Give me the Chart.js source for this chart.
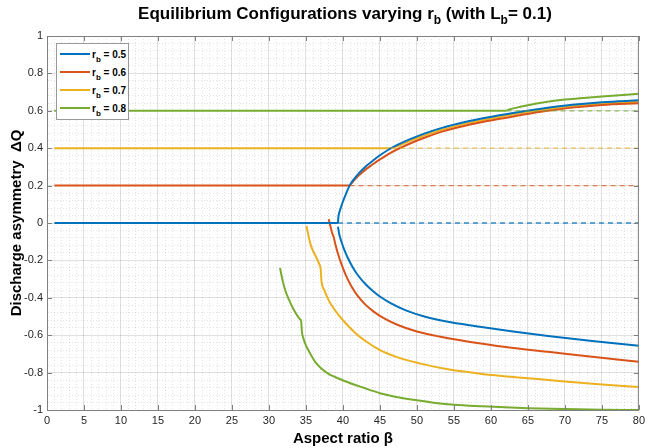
<!DOCTYPE html>
<html>
<head>
<meta charset="utf-8">
<script src="https://cdn.jsdelivr.net/npm/chart.js@4.4.0/dist/chart.umd.min.js"></script>
<style>
  html, body { margin: 0; padding: 0; background: #fff; }
  #wrap { position: relative; width: 649px; height: 448px; font-family: "Liberation Sans", Arial, sans-serif; }
  #title { position: absolute; left: 0; top: 3px; width: 690px; text-align: center; font-weight: bold; font-size: 17px; color: #000; line-height: 22px; white-space: nowrap; }
  #title sub { font-size: 12px; vertical-align: -5px; line-height: 0; }
  #legend { position: absolute; left: 56px; top: 43px; width: 73px; height: 77px; border: 1px solid #999; background: #fff; box-sizing: border-box; }
  #legend .row { position: absolute; left: 0; height: 18px; display: flex; align-items: center; white-space: nowrap; }
  #legend .sw { display: inline-block; width: 30px; height: 2px; margin-left: 3px; }
  #legend .lb { margin-left: 2px; font-weight: bold; font-size: 10px; color: #000; }
  #legend sub { font-size: 8px; vertical-align: -4px; line-height: 0; }
</style>
</head>
<body>
<div id="wrap">
  <canvas id="chart" width="649" height="448"></canvas>
  <div id="title">Equilibrium Configurations varying r<sub>b</sub> (with L<sub>b</sub>= 0.1)</div>
  <div id="legend"></div>
</div>
<script>
const rbValues = [0.5, 0.6, 0.7, 0.8];
const colors = ["#0072BD", "#D95319", "#EDB120", "#77AC30"];
const dashColors = ["rgba(0,114,189,0.8)", "rgba(217,83,25,0.7)", "rgba(237,177,32,0.75)", "rgba(119,172,48,0.75)"];

// flat (symmetric) solutions: level and where the solid part stops
const flatStart = 1;
const flatLevels = [0, 0.2, 0.4, 0.6];
const flatEnds = [39.33, 40.9, 46.5, 62.1];
const betaMax = 80;

// upper branches [beta, dQ]
const upper05 = [[39.33,0],[39.38,0.03],[39.5,0.055],[39.7,0.08],[40,0.115],[40.4,0.155],[40.9,0.2],[41.5,0.235],[42.2,0.268],[43,0.3],[44,0.332],[45,0.362],[46.2,0.393],[47.5,0.42],[49,0.447],[51,0.478],[53.5,0.51],[56.5,0.54],[59.5,0.564],[63,0.588],[67,0.612],[71,0.632],[75,0.646],[80,0.656]];
const upper06 = [[40.9,0.2],[41.5,0.228],[42.2,0.256],[43,0.284],[44,0.313],[45,0.34],[46.2,0.37],[47.5,0.397],[49,0.424],[51,0.456],[53.5,0.49],[56.5,0.52],[59.5,0.545],[63,0.57],[67,0.596],[71,0.617],[75,0.631],[80,0.64]];
const upper07 = [[46.5,0.398],[47.5,0.413],[49,0.438],[51,0.468],[53.5,0.5],[56.5,0.53],[59.5,0.555],[63,0.58],[67,0.605],[71,0.625],[75,0.639],[80,0.648]];
const upper08 = [[62.1,0.601],[62.6,0.608],[63.5,0.617],[65,0.63],[67,0.644],[70,0.66],[72,0.667],[75,0.677],[80,0.691]];

// lower branches [beta, dQ]
const lower05 = [[39.33,-0.02],[39.5,-0.06],[39.8,-0.1],[40.2,-0.145],[40.7,-0.19],[41.3,-0.235],[42,-0.278],[43,-0.325],[44,-0.362],[45,-0.393],[46.5,-0.43],[48.5,-0.467],[51,-0.5],[54,-0.527],[58,-0.552],[63,-0.58],[68,-0.605],[74,-0.632],[80,-0.656]];
const lower06 = [[38.08,0.02],[38.3,-0.016],[38.55,-0.055],[38.75,-0.075],[38.95,-0.11],[39.3,-0.16],[39.8,-0.22],[40.4,-0.28],[41.1,-0.335],[42,-0.39],[43,-0.435],[44.2,-0.475],[45.7,-0.513],[47.5,-0.547],[50,-0.58],[53,-0.607],[57,-0.635],[62,-0.663],[68,-0.69],[74,-0.717],[80,-0.742]];
const lower07 = [[35.07,-0.016],[35.5,-0.096],[35.85,-0.14],[36.2,-0.168],[36.8,-0.22],[37,-0.248],[37.1,-0.31],[37.5,-0.36],[38.1,-0.415],[38.9,-0.465],[40,-0.52],[41.6,-0.585],[43,-0.63],[45,-0.68],[47.5,-0.72],[50.5,-0.752],[54,-0.781],[58.8,-0.807],[65,-0.83],[70,-0.848],[75,-0.863],[80,-0.877]];
const lower08 = [[31.5,-0.24],[31.8,-0.3],[32.2,-0.36],[32.7,-0.41],[33.3,-0.46],[34.2,-0.515],[34.35,-0.525],[34.45,-0.58],[34.6,-0.61],[35,-0.655],[35.6,-0.7],[36.2,-0.74],[37,-0.775],[38,-0.805],[39,-0.825],[40.2,-0.845],[42.7,-0.88],[45,-0.91],[47.2,-0.93],[50,-0.948],[52.5,-0.962],[55,-0.972],[58.8,-0.98],[65,-0.99],[70,-0.995],[75,-0.998],[80,-1.0]];

const uppers = [upper05, upper06, upper07, upper08];
const lowers = [lower05, lower06, lower07, lower08];

const toPts = arr => arr.map(p => ({ x: p[0], y: p[1] }));

const datasets = [];
rbValues.forEach((rb, i) => {
  datasets.push({ label: "rb = " + rb + " dashed", borderColor: dashColors[i], borderWidth: 1.3, borderDash: [5, 4], pointRadius: 0, fill: false,
    data: [{ x: flatEnds[i], y: flatLevels[i] }, { x: betaMax, y: flatLevels[i] }] });
});
rbValues.forEach((rb, i) => {
  const base = { borderColor: colors[i], borderWidth: 2, pointRadius: 0, fill: false, cubicInterpolationMode: "monotone" };
  datasets.push({ ...base, label: "rb = " + rb, data: [{ x: flatStart, y: flatLevels[i] }, { x: flatEnds[i], y: flatLevels[i] }] });
  datasets.push({ ...base, label: "rb = " + rb + " upper", data: toPts(uppers[i]) });
  datasets.push({ ...base, label: "rb = " + rb + " lower", data: toPts(lowers[i]) });
});

// html legend with subscripts
const legend = document.getElementById("legend");
rbValues.forEach((rb, i) => {
  const row = document.createElement("div");
  row.className = "row";
  row.style.top = (1 + i * 18.1) + "px";
  row.innerHTML = `<span class="sw" style="background:${colors[i]}"></span><span class="lb">r<sub>b</sub> = ${rb}</span>`;
  legend.appendChild(row);
});

const isMajorX = v => Math.abs(v / 5 - Math.round(v / 5)) < 1e-6;
const isMajorY = v => Math.abs(v * 5 - Math.round(v * 5)) < 1e-6;

// box around the axes plus inward ticks like matlab
const boxPlugin = {
  id: "box",
  afterDraw(chart) {
    const { ctx, chartArea: a, scales: { x, y } } = chart;
    ctx.save();
    ctx.strokeStyle = "#808080";
    ctx.lineWidth = 1;
    ctx.beginPath();
    ctx.moveTo(a.left, a.top + 0.5); ctx.lineTo(a.right, a.top + 0.5);
    ctx.moveTo(a.right - 0.5, a.top); ctx.lineTo(a.right - 0.5, a.bottom);
    x.ticks.forEach(t => {
      if (!isMajorX(t.value)) return;
      const px = Math.round(x.getPixelForValue(t.value)) + 0.5;
      ctx.moveTo(px, a.bottom); ctx.lineTo(px, a.bottom - 5);
      ctx.moveTo(px, a.top); ctx.lineTo(px, a.top + 5);
    });
    y.ticks.forEach(t => {
      if (!isMajorY(t.value)) return;
      const py = Math.round(y.getPixelForValue(t.value)) + 0.5;
      ctx.moveTo(a.left, py); ctx.lineTo(a.left + 5, py);
      ctx.moveTo(a.right, py); ctx.lineTo(a.right - 5, py);
    });
    ctx.stroke();
    ctx.restore();
  }
};

const majorAt = c => c.scale.axis === "x" ? isMajorX(c.tick.value) : isMajorY(c.tick.value);
const gridColor = c => (c.tick && majorAt(c)) ? "rgba(38,38,38,0.15)" : "rgba(38,38,38,0.13)";
const gridDash = c => (c.tick && !majorAt(c)) ? [1, 2] : [];

new Chart(document.getElementById("chart"), {
  type: "line",
  data: { datasets },
  options: {
    responsive: false,
    animation: false,
    layout: { padding: { top: 36, right: 6, left: 0, bottom: 0 } },
    plugins: { legend: { display: false }, tooltip: { enabled: false }, title: { display: false } },
    elements: { point: { radius: 0 } },
    scales: {
      x: {
        type: "linear", min: 0, max: 80,
        afterFit: s => { s.height = 38; },
        ticks: {
          stepSize: 1, autoSkip: false, maxRotation: 0, maxTicksLimit: 1000,
          color: "#262626", font: { family: "Liberation Sans", size: 11 }, padding: 4,
          callback: v => isMajorX(v) ? String(Math.round(v)) : ""
        },
        grid: { color: gridColor, drawTicks: false, lineWidth: 1 },
        border: { color: "#808080", dash: gridDash },
        title: { display: true, text: "Aspect ratio β", color: "#000", font: { family: "Liberation Sans", size: 15, weight: "bold" }, padding: { top: 2, bottom: 0 } }
      },
      y: {
        type: "linear", min: -1, max: 1,
        afterFit: s => { s.width = 47; },
        ticks: {
          stepSize: 0.04, autoSkip: false, maxTicksLimit: 1000,
          color: "#262626", font: { family: "Liberation Sans", size: 11 }, padding: 4,
          callback: v => isMajorY(v) ? String(Math.round(v * 10) / 10) : ""
        },
        grid: { color: gridColor, drawTicks: false, lineWidth: 1 },
        border: { color: "#808080", dash: gridDash },
        title: { display: true, text: "Discharge asymmetry  ΔQ", color: "#000", font: { family: "Liberation Sans", size: 15, weight: "bold" }, padding: { top: 8, bottom: 0 } }
      }
    }
  },
  plugins: [boxPlugin]
});
</script>
</body>
</html>
